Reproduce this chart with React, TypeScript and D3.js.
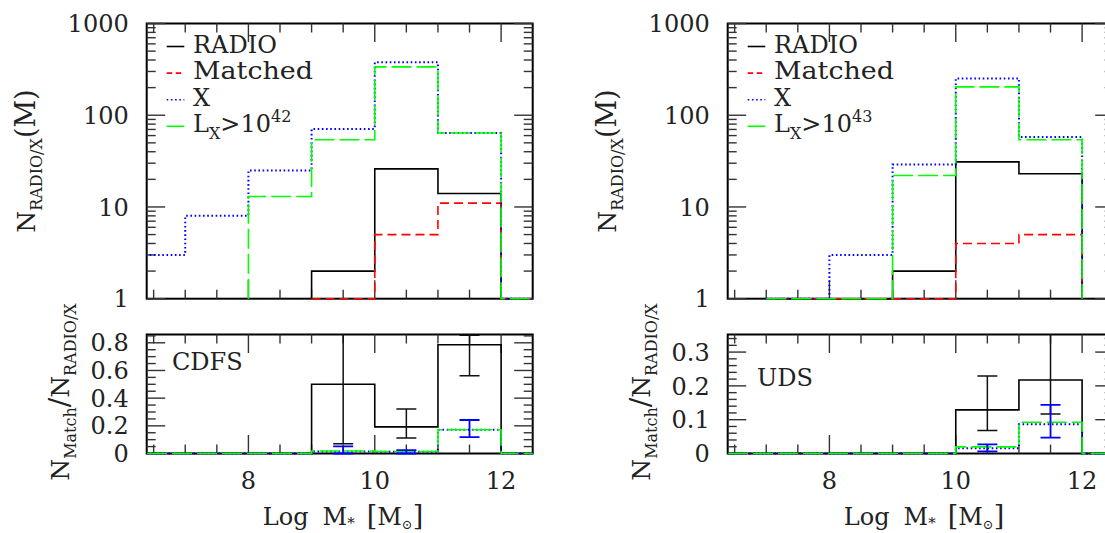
import React from "react";
import * as d3 from "d3";

// Stellar-mass bins (lower edges, bin width 1 dex)
const massBinStarts = [6, 7, 8, 9, 10, 11, 12];

// CDFS counts per bin (null = bin not plotted)
const cdfsRadio = [null, null, null, 2, 26, 14, 0];
const cdfsMatched = [null, null, null, 1, 5, 11, 0];
const cdfsX = [3, 8, 25, 71, 377, 64, 0];
const cdfsXBright = [null, null, 13, 54, 337, 64, 0];

// UDS counts per bin
const udsRadio = [null, 0, 0, 2, 31, 23, null];
const udsMatched = [null, 0, 0, 0, 4, 5, null];
const udsX = [null, 0, 3, 29, 252, 58, null];
const udsXBright = [null, 0, 0, 22, 204, 54, null];

// Error bars on the matched fractions
const cdfsErrCenters = [9.5, 10.5, 11.5];
const cdfsRadioErrLo = [0.071, 0.112, 0.562];
const cdfsRadioErrHi = [1.0, 0.321, 0.855];
const cdfsXErrLo = [0, 0, 0.119];
const cdfsXErrHi = [0.052, 0.025, 0.242];

const udsErrCenters = [10.5, 11.5];
const udsRadioErrLo = [0.068, 0.117];
const udsRadioErrHi = [0.229, 0.42];
const udsXErrLo = [0.0065, 0.047];
const udsXErrHi = [0.027, 0.144];

// Tick labels
const countTickLabels = ["1", "10", "100", "1000"];
const massTickLabels = ["8", "10", "12"];
const cdfsFracTickLabels = ["0", "0.2", "0.4", "0.6", "0.8"];
const udsFracTickLabels = ["0", "0.1", "0.2", "0.3"];

const legendLabels = ["RADIO", "Matched", "X"];

const ratio = (num: (number | null)[], den: (number | null)[]) =>
  num.map((v, i) => (v != null && den[i] != null && (den[i] as number) > 0 ? v / (den[i] as number) : 0));

const panels = [
  {
    key: "cdfs",
    field: "CDFS",
    lumExp: "42",
    radio: cdfsRadio,
    matched: cdfsMatched,
    xray: cdfsX,
    xBright: cdfsXBright,
    fracMax: 0.86,
    fracLabels: cdfsFracTickLabels,
    fracMinor: 0.05,
    errCenters: cdfsErrCenters,
    radioLo: cdfsRadioErrLo,
    radioHi: cdfsRadioErrHi,
    xLo: cdfsXErrLo,
    xHi: cdfsXErrHi,
    dx: 0,
    fieldPos: [172, 370],
  },
  {
    key: "uds",
    field: "UDS",
    lumExp: "43",
    radio: udsRadio,
    matched: udsMatched,
    xray: udsX,
    xBright: udsXBright,
    fracMax: 0.352,
    fracLabels: udsFracTickLabels,
    fracMinor: 0.02,
    errCenters: udsErrCenters,
    radioLo: udsRadioErrLo,
    radioHi: udsRadioErrHi,
    xLo: udsXErrLo,
    xHi: udsXErrHi,
    dx: 581,
    fieldPos: [757, 386],
  },
];

const F = { x0: 146.7, x1: 532.7, tY0: 23.5, tY1: 298.7, bY0: 334.5, bY1: 453.5 };
const MAJOR = 18.5;
const MINOR = 9;
const FONT = "'DejaVu Serif', serif";
const INK = "#222";
const TICK = "#333";
const C = { radio: "#000", matched: "#ff0000", x: "#0000ff", bright: "#00ff00" };
const DASH = { matched: "9,5", x: "1.6,2.6", bright: "20,5" };

function stepPath(values: (number | null)[], xs: (v: number) => number, ys: (v: number) => number, floor: number) {
  let d = "";
  let i = 0;
  const n = values.length;
  const line = d3.line();
  while (i < n) {
    if (values[i] == null) {
      i++;
      continue;
    }
    const pts: [number, number][] = [[massBinStarts[i], floor]];
    while (i < n && values[i] != null) {
      const v = values[i] as number;
      pts.push([massBinStarts[i], v], [massBinStarts[i] + 1, v]);
      i++;
    }
    pts.push([massBinStarts[i - 1] + 1, floor]);
    d += line(pts.map(([a, b]) => [xs(a), ys(b)] as [number, number]));
  }
  return d;
}

function Panel({ p }: { p: (typeof panels)[number] }) {
  const { dx } = p;
  const x = d3.scaleLinear().domain([6.39, 12.5]).range([F.x0 + dx, F.x1 + dx]);
  const yLog = d3.scaleLog().domain([1, 1000]).range([F.tY1, F.tY0]).clamp(true);
  const yTop = (v: number) => yLog(Math.max(v, 1));
  const yBot = d3.scaleLinear().domain([0, p.fracMax]).range([F.bY1, F.bY0]);
  const xl = F.x0 + dx;
  const xr = F.x1 + dx;

  const xMajor = massTickLabels.map(Number);
  const xMinor = d3.range(6.5, 12.49, 0.5).filter((v) => !xMajor.includes(v) && v !== 6);
  const logMajor = countTickLabels.map(Number);
  const logMinor: number[] = [];
  [1, 10, 100].forEach((dec) => d3.range(2, 10).forEach((k) => logMinor.push(k * dec)));
  const fracMajor = p.fracLabels.map(Number);
  const fracMinor = d3
    .range(0, p.fracMax, p.fracMinor)
    .filter((v) => !fracMajor.some((m) => Math.abs(m - v) < 1e-6));

  const clipTop = `clip-top-${p.key}`;
  const clipBot = `clip-bot-${p.key}`;

  const xTicks = (y0: number, y1: number) => (
    <g stroke={TICK} strokeWidth={1.4}>
      {xMajor.map((v) => (
        <g key={"M" + v}>
          <line x1={x(v)} x2={x(v)} y1={y1} y2={y1 - MAJOR} />
          <line x1={x(v)} x2={x(v)} y1={y0} y2={y0 + MAJOR} />
        </g>
      ))}
      {xMinor.map((v) => (
        <g key={"m" + v}>
          <line x1={x(v)} x2={x(v)} y1={y1} y2={y1 - MINOR} />
          <line x1={x(v)} x2={x(v)} y1={y0} y2={y0 + MINOR} />
        </g>
      ))}
    </g>
  );
  const yTicks = (vals: number[], ys: (v: number) => number, len: number, tag: string) => (
    <g stroke={TICK} strokeWidth={1.4}>
      {vals.map((v) => (
        <g key={tag + v}>
          <line x1={xl} x2={xl + len} y1={ys(v)} y2={ys(v)} />
          <line x1={xr} x2={xr - len} y1={ys(v)} y2={ys(v)} />
        </g>
      ))}
    </g>
  );

  const ratioRadio = ratio(p.matched, p.radio);
  const ratioX = ratio(p.matched, p.xray);
  const ratioBright = ratio(p.matched, p.xBright);

  const legendY0 = 52.5;
  const legendStep = 26.6;
  const legendStyles = [
    { color: C.radio, dash: undefined },
    { color: C.matched, dash: "5.5,3.5" },
    { color: C.x, dash: DASH.x },
    { color: C.bright, dash: DASH.bright },
  ];

  const errBar = (cx: number, lo: number, hi: number, color: string, w: number, k: string) => {
    const px = x(cx);
    return (
      <g key={k} stroke={color} strokeWidth={w}>
        <line x1={px} x2={px} y1={yBot(lo)} y2={yBot(hi)} />
        <line x1={px - 10} x2={px + 10} y1={yBot(lo)} y2={yBot(lo)} />
        <line x1={px - 10} x2={px + 10} y1={yBot(hi)} y2={yBot(hi)} />
      </g>
    );
  };

  return (
    <g>
      <defs>
        <clipPath id={clipTop}>
          <rect x={xl} y={F.tY0} width={xr - xl} height={F.tY1 - F.tY0 + 1.5} />
        </clipPath>
        <clipPath id={clipBot}>
          <rect x={xl} y={F.bY0} width={xr - xl} height={F.bY1 - F.bY0 + 1.5} />
        </clipPath>
      </defs>

      {/* frames */}
      <rect x={xl} y={F.tY0} width={xr - xl} height={F.tY1 - F.tY0} fill="none" stroke="#000" strokeWidth={2} />
      <rect x={xl} y={F.bY0} width={xr - xl} height={F.bY1 - F.bY0} fill="none" stroke="#000" strokeWidth={2} />

      {/* ticks */}
      {xTicks(F.tY0, F.tY1)}
      {xTicks(F.bY0, F.bY1)}
      {yTicks(logMajor, yTop, MAJOR, "LM")}
      {yTicks(logMinor, yTop, MINOR, "Lm")}
      {yTicks(fracMajor, yBot, MAJOR, "FM")}
      {yTicks(fracMinor, yBot, MINOR, "Fm")}

      {/* count histograms */}
      <g clipPath={`url(#${clipTop})`} fill="none" strokeWidth={1.6}>
        <path d={stepPath(p.radio, x, yTop, 1)} stroke={C.radio} />
        <path d={stepPath(p.matched, x, yTop, 1)} stroke={C.matched} strokeDasharray={DASH.matched} />
        <path d={stepPath(p.xray, x, yTop, 1)} stroke={C.x} strokeDasharray={DASH.x} strokeWidth={2} />
        <path d={stepPath(p.xBright, x, yTop, 1)} stroke={C.bright} strokeDasharray={DASH.bright} />
      </g>

      {/* matched fractions */}
      <g clipPath={`url(#${clipBot})`} fill="none" strokeWidth={1.6}>
        <path d={stepPath(ratioRadio, x, yBot, 0)} stroke={C.radio} />
        <path d={stepPath(ratioX, x, yBot, 0)} stroke={C.x} strokeDasharray={DASH.x} strokeWidth={2} />
        <path d={stepPath(ratioBright, x, yBot, 0)} stroke={C.bright} strokeDasharray={DASH.bright} />
        {p.errCenters.map((c, i) => errBar(c, p.radioLo[i], p.radioHi[i], "#111", 1.5, "r" + i))}
        {p.errCenters.map((c, i) => errBar(c, p.xLo[i], p.xHi[i], C.x, 1.8, "x" + i))}
      </g>

      {/* legend */}
      {legendStyles.map((s, i) => (
        <line
          key={"ls" + i}
          x1={166.7 + dx}
          x2={184.3 + dx}
          y1={legendY0 + i * legendStep - 6}
          y2={legendY0 + i * legendStep - 6}
          stroke={s.color}
          strokeWidth={1.6}
          strokeDasharray={s.dash}
        />
      ))}
      <g fontFamily={FONT} fill={INK} fontSize={24}>
        {legendLabels.map((t, i) => (
          <text
            key={t}
            x={193 + dx}
            y={legendY0 + i * legendStep}
            textLength={t === "Matched" ? 120 : undefined}
            lengthAdjust="spacingAndGlyphs"
          >
            {t}
          </text>
        ))}
        <text x={193 + dx} y={legendY0 + 3 * legendStep}>
          L
          <tspan fontSize={16} dy={7}>
            X
          </tspan>
          <tspan dy={-7}>{">10"}</tspan>
          <tspan fontSize={16} dy={-10}>
            {p.lumExp}
          </tspan>
        </text>

        {/* field name */}
        <text x={p.fieldPos[0]} y={p.fieldPos[1]}>
          {p.field}
        </text>

        {/* tick labels */}
        {countTickLabels.map((t) => (
          <text key={"cl" + t} x={xl - 18} y={yTop(Number(t))} dy="0.36em" textAnchor="end">
            {t}
          </text>
        ))}
        {p.fracLabels.map((t) => (
          <text key={"fl" + t} x={xl - 18} y={yBot(Number(t))} dy="0.36em" textAnchor="end">
            {t}
          </text>
        ))}
        {massTickLabels.map((t) => (
          <text key={"ml" + t} x={x(Number(t))} y={489} textAnchor="middle">
            {t}
          </text>
        ))}

        {/* axis titles */}
        <text textAnchor="middle" transform={`translate(${34.5 + dx},161) rotate(-90)`} fontSize={25}>
          N
          <tspan fontSize={16} dy={7}>
            RADIO/X
          </tspan>
          <tspan dy={-7} fontSize={27}>(M)</tspan>
        </text>
        <text textAnchor="middle" transform={`translate(${69 + dx},392) rotate(-90)`} fontSize={25}>
          N
          <tspan fontSize={16} dy={7}>
            Match
          </tspan>
          <tspan dy={-7} fontSize={28}>/</tspan>
          <tspan>N</tspan>
          <tspan fontSize={16} dy={7}>
            RADIO/X
          </tspan>
        </text>
        <text textAnchor="middle" x={343 + dx} y={525} fontSize={24}>
          Log
          <tspan dx={14}>M</tspan>
          <tspan fontSize={15} dy={3}>
            *
          </tspan>
          <tspan dy={-3} dx={12} fontSize={27}>
            [
          </tspan>
          <tspan>M</tspan>
          <tspan fontSize={13} dy={4}>
            ⊙
          </tspan>
          <tspan dy={-4} fontSize={27}>
            ]
          </tspan>
        </text>
      </g>
    </g>
  );
}

export default function App() {
  return (
    <svg
      width={1105}
      height={533}
      viewBox="0 0 1105 533"
      style={{ position: "absolute", left: 0, top: 0, background: "#fff" }}
    >
      <rect width={1105} height={533} fill="#fff" />
      {panels.map((p) => (
        <Panel key={p.key} p={p} />
      ))}
    </svg>
  );
}
